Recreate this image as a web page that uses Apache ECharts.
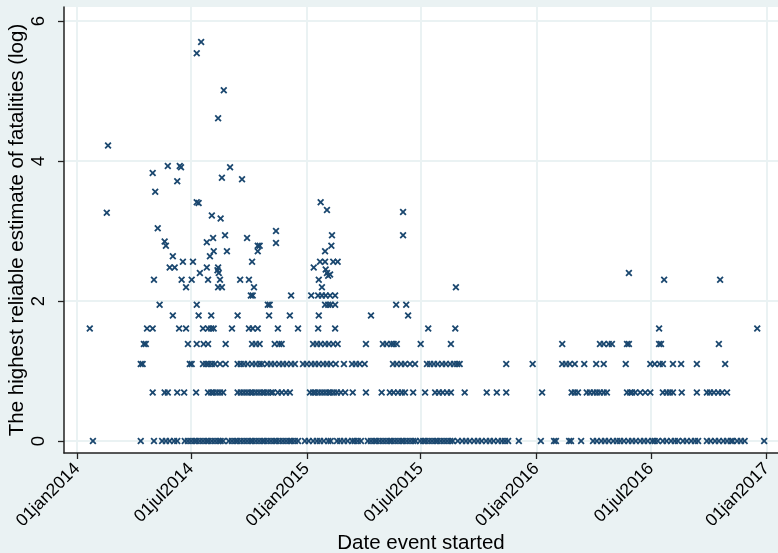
<!DOCTYPE html>
<html>
<head>
<meta charset="utf-8">
<script src="https://cdn.jsdelivr.net/npm/echarts@6/dist/echarts.min.js"></script>
<style>
html,body{margin:0;padding:0;background:#eaf2f3;}
#chart{width:778px;height:553px;}
</style>
</head>
<body>
<div id="chart"></div>
<script>
// Dates are Stata %td daily dates (days since 01jan1960).
// Values: log of the highest reliable estimate of fatalities.
const xTickDates = [19724, 19905, 20089, 20270, 20454, 20636, 20820];
const yTickValues = [0, 2, 4, 6];
const monthAbbr = ['jan','feb','mar','apr','may','jun','jul','aug','sep','oct','nov','dec'];

// events with value 0 (1 fatality)
const datesLog1 = [19749,19825,19846,19859,19865,19871,19878,19883,19895,19900,19905,19910,19914,19919,19924,19929,19933,19938,19943,19948,19952,19956,19965,19970,19975,19979,19984,19989,19994,19999,20003,20008,20013,20018,20022,20027,20032,20037,20041,20046,20051,20056,20061,20065,20070,20075,20086,20092,20099,20105,20110,20116,20123,20127,20137,20142,20148,20154,20161,20165,20170,20175,20186,20191,20196,20200,20205,20210,20215,20220,20224,20229,20234,20239,20243,20248,20253,20258,20262,20269,20274,20278,20283,20288,20293,20297,20302,20307,20312,20317,20321,20329,20336,20342,20348,20355,20361,20367,20374,20380,20386,20393,20399,20404,20409,20426,20461,20482,20485,20506,20509,20525,20544,20550,20557,20563,20569,20576,20582,20587,20593,20600,20606,20612,20619,20625,20631,20638,20642,20647,20655,20661,20668,20674,20679,20687,20693,20700,20706,20711,20725,20731,20738,20744,20751,20757,20763,20766,20773,20779,20785,20816];
// value 0.69 (2 fatalities)
const datesLog2 = [19844,19863,19868,19883,19894,19913,19932,19937,19941,19946,19951,19956,19979,19984,19989,19994,19999,20003,20008,20013,20018,20022,20027,20032,20035,20043,20049,20056,20062,20094,20099,20103,20108,20113,20118,20123,20127,20132,20137,20143,20150,20162,20183,20208,20221,20227,20234,20240,20245,20258,20277,20293,20299,20305,20312,20318,20340,20375,20391,20406,20463,20510,20515,20520,20534,20539,20545,20550,20555,20561,20566,20598,20603,20606,20611,20619,20627,20635,20655,20661,20666,20671,20685,20709,20725,20730,20736,20743,20749,20757];
// value 1.10 (3 fatalities)
const datesLog3 = [19825,19828,19903,19906,19924,19929,19933,19938,19943,19951,19960,19979,19984,19989,19995,20002,20008,20014,20018,20026,20032,20038,20045,20051,20057,20064,20070,20083,20089,20096,20102,20108,20115,20121,20127,20135,20148,20161,20167,20173,20181,20226,20232,20239,20245,20253,20261,20280,20285,20291,20297,20304,20310,20317,20323,20328,20332,20406,20448,20495,20501,20507,20515,20530,20549,20561,20596,20635,20642,20650,20655,20671,20684,20709,20754];
// value 1.39 (4 fatalities)
const datesLog4 = [19830,19833,19900,19914,19925,19932,19960,20002,20008,20014,20038,20045,20049,20099,20105,20111,20118,20124,20131,20138,20183,20210,20216,20223,20227,20232,20270,20318,20495,20555,20561,20569,20574,20598,20601,20649,20652,20744];
// value 1.61 (5 fatalities)
const datesLog5 = [19744,19835,19844,19886,19897,19924,19932,19937,19941,19970,19997,20003,20011,20043,20075,20107,20134,20282,20325,20649,20805];
// value 1.79 (6 fatalities)
const datesLog6 = [19876,19917,19937,19979,20029,20062,20108,20191,20250];
// value 1.95 (7 fatalities)
const datesLog7 = [19855,19914,20027,20030,20118,20123,20127,20134,20231,20247];
// value 2.08 (8 fatalities)
const datesLog8 = [20000,20003,20064,20096,20107,20113,20119,20126,20134];
// value 2.20 (9 fatalities)
const datesLog9 = [19897,19948,19954,20005,20113,20326];
// value 2.30 (10 fatalities)
const datesLog10 = [19846,19890,19906,19932,19951,19983,19997,20108,20657,20746];

// remaining events: dates and log values
const otherDates = [19773,19771,19948,19957,19914,19921,19868,19887,19889,19844,19883,19848,19967,19954,19986,19914,19917,19938,19952,19852,19940,19959,19994,19863,19930,19865,20011,19935,19941,19962,19876,20002,19892,19908,19871,19879,19930,19948,19919,19947,19949,20040,20040,20014,20011,20129,20128,20118,20100,20110,20118,20131,20138,20119,20121,20126,20123,20111,20121,20242,20242,20601];
const otherValues = [4.22,3.26,4.61,5.01,5.54,5.70,3.93,3.93,3.91,3.83,3.71,3.56,3.91,3.76,3.74,3.41,3.40,3.22,3.18,3.04,2.90,2.94,2.90,2.85,2.84,2.79,2.79,2.64,2.71,2.71,2.64,2.56,2.56,2.56,2.48,2.48,2.48,2.48,2.40,2.44,2.40,3.00,2.83,2.79,2.71,2.94,2.79,2.71,2.48,2.56,2.56,2.56,2.56,2.45,2.40,2.38,2.36,3.41,3.30,3.27,2.94,2.40];

const levelRows = [
  [datesLog1, 0], [datesLog2, 0.693], [datesLog3, 1.099], [datesLog4, 1.386],
  [datesLog5, 1.609], [datesLog6, 1.792], [datesLog7, 1.946], [datesLog8, 2.079],
  [datesLog9, 2.197], [datesLog10, 2.303]
];
const points = [];
levelRows.forEach(([ds, v]) => ds.forEach(d => points.push([d, v])));
otherDates.forEach((d, i) => points.push([d, otherValues[i]]));

function stataDateLabel(v) {
  const d = new Date(Date.UTC(1960, 0, 1) + Math.round(v) * 86400000);
  return String(d.getUTCDate()).padStart(2, '0') + monthAbbr[d.getUTCMonth()] + d.getUTCFullYear();
}

const FONT = '"Liberation Sans", Arial, Helvetica, sans-serif';
const navy = '#1a476f';
const gridCol = '#eaf2f3';
const xMarker = 'path://M0,1.8L1.8,0L5,3.2L8.2,0L10,1.8L6.8,5L10,8.2L8.2,10L5,6.8L1.8,10L0,8.2L3.2,5Z';

const chart = echarts.init(document.getElementById('chart'), null, {renderer: 'canvas'});
chart.setOption({
  backgroundColor: '#eaf2f3',
  animation: false,
  grid: {left: 64, right: 0, top: 7, bottom: 100, show: true, backgroundColor: '#ffffff', borderWidth: 0,
    containLabel: false, outerBoundsMode: 'none'},
  xAxis: {
    type: 'value', min: 19703, max: 20838,
    name: 'Date event started', nameLocation: 'middle', nameGap: 80, nameMoveOverlap: false,
    nameTextStyle: {fontFamily: FONT, fontSize: 20.5, color: '#000'},
    axisLine: {show: true, onZero: false, lineStyle: {color: '#222', width: 1.5}},
    axisTick: {show: true, length: 6, customValues: xTickDates, lineStyle: {color: '#222', width: 1.3}},
    axisLabel: {customValues: xTickDates, rotate: 45, margin: 13, formatter: stataDateLabel,
      fontFamily: FONT, fontSize: 17.5, color: '#000'},
    splitLine: {show: true, lineStyle: {color: gridCol, width: 2}}
  },
  yAxis: {
    type: 'value', min: -0.171, max: 6.2,
    name: 'The highest reliable estimate of fatalities (log)', nameLocation: 'middle', nameRotate: 90, nameGap: 36,
    nameMoveOverlap: false,
    nameTextStyle: {fontFamily: FONT, fontSize: 20.5, color: '#000'},
    axisLine: {show: true, lineStyle: {color: '#222', width: 1.5}},
    axisTick: {show: true, length: 6, customValues: yTickValues, lineStyle: {color: '#222', width: 1.3}},
    axisLabel: {customValues: yTickValues, rotate: 90, margin: 16, fontFamily: FONT, fontSize: 18.5, color: '#000'},
    splitLine: {show: true, lineStyle: {color: gridCol, width: 2}}
  },
  series: [{
    type: 'scatter', data: points, symbol: xMarker, symbolSize: 7,
    itemStyle: {color: navy, opacity: 1}, silent: true
  }]
});
</script>
</body>
</html>
